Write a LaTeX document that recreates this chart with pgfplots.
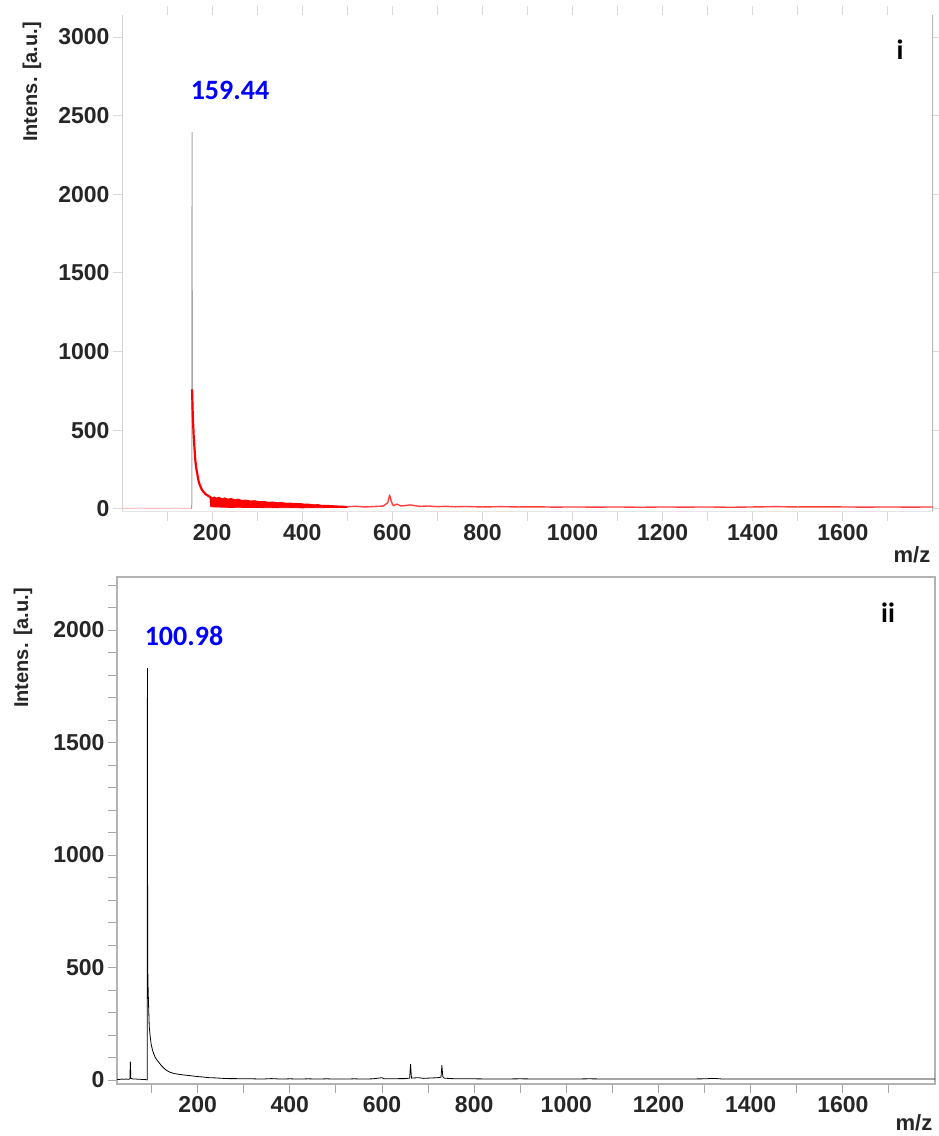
\documentclass[border=0pt]{standalone}
\usepackage{pgfplots}
\pgfplotsset{compat=1.18}
\usepackage{fontspec}
\setmainfont{Liberation Sans}
\newfontfamily\calibri{Carlito}
\definecolor{lblue}{RGB}{0,0,255}
\begin{document}
\begin{tikzpicture}
\path[use as bounding box] (0pt,0pt) rectangle (938pt,1136pt);
\pgfplotsset{
 every axis/.append style={
  scale only axis,
  /pgf/number format/assume math mode=true,
  /pgf/number format/1000 sep={},
  tick label style={font=\bfseries\fontsize{23}{23}\selectfont, text=black!85},
  xtick={200,400,...,1600},
  minor xtick={100,300,...,1700},
  tick align=outside,
  major tick length=9pt, minor tick length=9pt,
  clip=true,
 }
}
% ---------- panel i ----------
\begin{axis}[at={(122pt,624pt)}, anchor=south west, width=811pt, height=497pt,
  xmin=0, xmax=1800, ymin=-20, ymax=3140,
  ytick={0,500,...,3000},
  axis line style={draw=none},
  tick style={gray!30, line width=1pt},
  ]
\draw[gray!35, line width=2pt] (rel axis cs:0,0) -- (rel axis cs:0,1);
\draw[gray!55, line width=2pt] (rel axis cs:1,0) -- (rel axis cs:1,1);
\draw[gray!20, line width=1.5pt] (rel axis cs:0,0) -- (rel axis cs:1,0);
\addplot[red!25, line width=1pt] coordinates {(0,3)(40,4)(80,3)(120,4)(150,3)(155,2)};
\addplot[gray!70, line width=1pt] coordinates {(154.8,0)(155.5,2395)(156.2,700)};
% noisy band (upper envelope, then lower envelope back)
\addplot[fill=red, draw=red, line width=0.8pt, line join=round] coordinates {
(194,80)(200,70)(205,76)(210,68)(215,74)(222,64)(228,70)(235,62)(242,66)(250,58)(258,62)(266,54)(275,56)(285,50)(295,52)(305,46)
(315,47)(325,42)(335,44)(345,39)(355,40)(365,36)(375,37)(385,33)(395,34)(405,30)(415,30)(425,26)(435,27)(445,22)(460,22)(475,19)(490,18)(500,15)
(500,9)(480,8)(460,9)(440,7)(420,8)(400,6)(380,8)(360,7)(340,8)(320,7)(300,9)(280,8)(260,10)(240,9)(220,11)(205,12)(196,14)};
\addplot[red, line width=2.2pt, line join=round] coordinates {
(155.5,760)(157,600)(159,470)(161,380)(163,300)(165,255)(167,225)(169,190)(171,165)(173,150)(176,130)(178,118)(182,105)(186,92)(190,85)(194,78)(198,70)};
\addplot[red!75, line width=1.4pt, line join=round] coordinates {
(500,14)(520,16)(540,12)(560,15)(580,18)(590,40)(594,88)(598,45)(602,20)(610,30)(620,18)(640,25)(660,16)(680,18)(700,14)(720,16)(740,13)
(760,15)(800,12)(840,14)(880,12)(920,13)(960,11)(1000,12)(1050,11)(1100,12)(1150,10)(1200,12)(1250,11)(1300,12)(1350,10)(1400,12)
(1450,14)(1500,12)(1550,13)(1600,12)(1650,11)(1700,12)(1750,11)(1800,12)};
\end{axis}
% ---------- panel ii ----------
\begin{axis}[at={(117pt,52pt)}, anchor=south west, width=818pt, height=507pt,
  xmin=25, xmax=1800, ymin=-18, ymax=2236,
  ytick={0,500,...,2000},
  minor ytick={100,200,...,2200},
  axis line style={gray!60, line width=1.3pt},
  tick style={gray!70, line width=0.9pt},
  xtick pos=bottom, ytick pos=left,
  ]
\addplot[black, line width=0.8pt, line join=round] coordinates {
(25,3)(30,2)(35,4)(40,3)(45,4)(50,3)(53,5)(54,80)(55,8)(58,5)(62,4)(66,4)(70,3)(75,3)(80,2)(85,2)(89,1)(90.5,0)(91,1830)(91.5,620)
(92,450)(93,370)(94,300)(95,235)(97,195)(99,160)(102,133)(105,115)(108,100)(112,88)(117,75)(122,62)(128,50)(133,42)(139,35)(145,31)
(150,28)(160,25)(170,22)(180,20)(188,18)(200,15)(212,13)(225,10)(240,9)(255,7)(268,6)(280,6)(300,5)(320,5)(340,4)(360,6)(380,4)(400,5)
(420,4)(440,5)(460,4)(480,5)(500,4)(520,4)(540,5)(560,4)(580,5)(600,10)(605,5)(620,5)(640,6)(650,6)(660,8)(662,70)(664,8)(670,9)(680,10)
(690,7)(700,8)(710,9)(720,10)(728,12)(730,65)(732,15)(735,8)(750,6)(770,5)(800,5)(850,4)(900,5)(950,4)(1000,4)(1050,5)(1100,4)(1150,4)
(1200,4)(1250,4)(1300,5)(1320,7)(1340,4)(1400,4)(1450,4)(1500,4)(1550,4)(1600,4)(1650,4)(1700,4)(1750,4)(1800,4)};
\end{axis}
% ---------- labels ----------
\node[rotate=90, font=\bfseries\fontsize{20}{20}\selectfont, text=black!85] at (32pt,1054pt) {Intens. [a.u.]};
\node[rotate=90, font=\bfseries\fontsize{20}{20}\selectfont, text=black!85] at (23pt,488pt) {Intens. [a.u.]};
\node[font=\bfseries\fontsize{22}{22}\selectfont, text=black!85] at (912pt,581pt) {m/z};
\node[font=\bfseries\fontsize{22}{22}\selectfont, text=black!85] at (914pt,13pt) {m/z};
\node[text=lblue, font=\calibri\bfseries\fontsize{28}{28}\selectfont] at (230pt,1046pt) {159.44};
\node[text=lblue, font=\calibri\bfseries\fontsize{28}{28}\selectfont] at (184pt,500pt) {100.98};
\node[font=\calibri\bfseries\fontsize{28}{28}\selectfont] at (900pt,1086pt) {i};
\node[font=\calibri\bfseries\fontsize{28}{28}\selectfont] at (888pt,523pt) {ii};
\end{tikzpicture}
\end{document}
